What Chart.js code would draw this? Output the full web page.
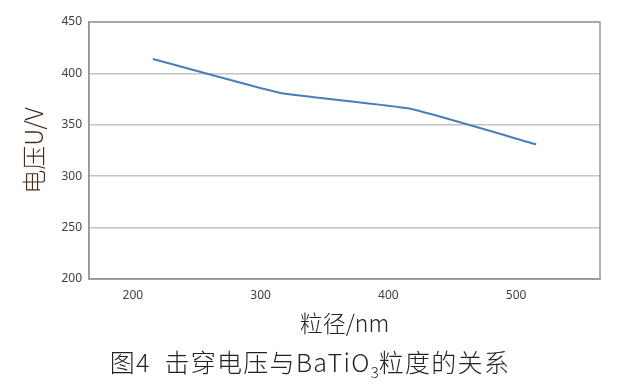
<!DOCTYPE html>
<html><head><meta charset="utf-8">
<script src="https://cdn.jsdelivr.net/npm/chart.js@4.4.1/dist/chart.umd.min.js"></script>
<style>
html,body{margin:0;padding:0;background:#fff;}
#wrap{position:relative;width:625px;height:390px;}
#cap{position:absolute;left:0;width:620px;top:346px;text-align:center;font-family:"Noto Sans CJK SC","Noto Sans",sans-serif;font-size:25px;font-weight:300;color:#222;line-height:30px;white-space:nowrap;letter-spacing:1.3px;}
#cap sub{font-size:15px;vertical-align:-6px;line-height:0;letter-spacing:0;}
</style></head>
<body>
<div id="wrap">
<canvas id="c" width="625" height="390"></canvas>
<div id="cap">图4&nbsp; 击穿电压与BaTiO<sub>3</sub>粒度的关系</div>
</div>
<script>
const categories = ["200", "300", "400", "500"];
const voltage = [414, 381, 366, 331];
const yTicks = [200, 250, 300, 350, 400, 450];
const xTitle = "粒径/nm";
const yTitle = "电压U/V";

const frame = {
  id: 'frame',
  afterDraw(chart) {
    const a = chart.chartArea, ctx = chart.ctx;
    ctx.save();
    ctx.strokeStyle = '#9a9a9a';
    ctx.lineWidth = 1.5;
    ctx.strokeRect(a.left, a.top, a.right - a.left, a.bottom - a.top);
    ctx.restore();
  }
};

new Chart(document.getElementById('c'), {
  type: 'line',
  data: {
    labels: categories,
    datasets: [{
      data: voltage,
      borderColor: '#4a7ebb',
      borderWidth: 2,
      pointRadius: 0,
      tension: 0.12,
      fill: false
    }]
  },
  options: {
    responsive: false,
    animation: false,
    layout: { padding: { left: 0, right: 25, top: 22, bottom: 53 } },
    plugins: { legend: { display: false }, tooltip: { enabled: false } },
    scales: {
      x: {
        offset: true,
        grid: { display: false, drawTicks: false },
        border: { color: '#8c8c8c', width: 1.5 },
        ticks: { color: '#404040', font: { family: 'Noto Sans', size: 12 }, padding: 9, labelOffset: -20 },
        title: { display: true, text: xTitle, color: '#222', font: { family: 'Noto Sans CJK SC', size: 23, weight: 300 }, padding: { top: 2, bottom: 0 } },
        afterFit(s) { s.height = 58; }
      },
      y: {
        min: yTicks[0], max: yTicks[yTicks.length - 1],
        afterBuildTicks(s) { s.ticks = yTicks.map(v => ({ value: v })); },
        grid: { color: '#c4c4c4', lineWidth: 1.5, drawTicks: false },
        border: { color: '#8c8c8c', width: 1.5 },
        ticks: { color: '#404040', font: { family: 'Noto Sans', size: 12 }, padding: 7 },
        title: { display: true, text: yTitle, color: '#4a2a1a', font: { family: 'Noto Sans CJK SC', size: 24, weight: 300 }, padding: { top: 19, bottom: 0 } },
        afterFit(s) { s.width = 89; }
      }
    }
  },
  plugins: [frame]
});
</script>
</body></html>
